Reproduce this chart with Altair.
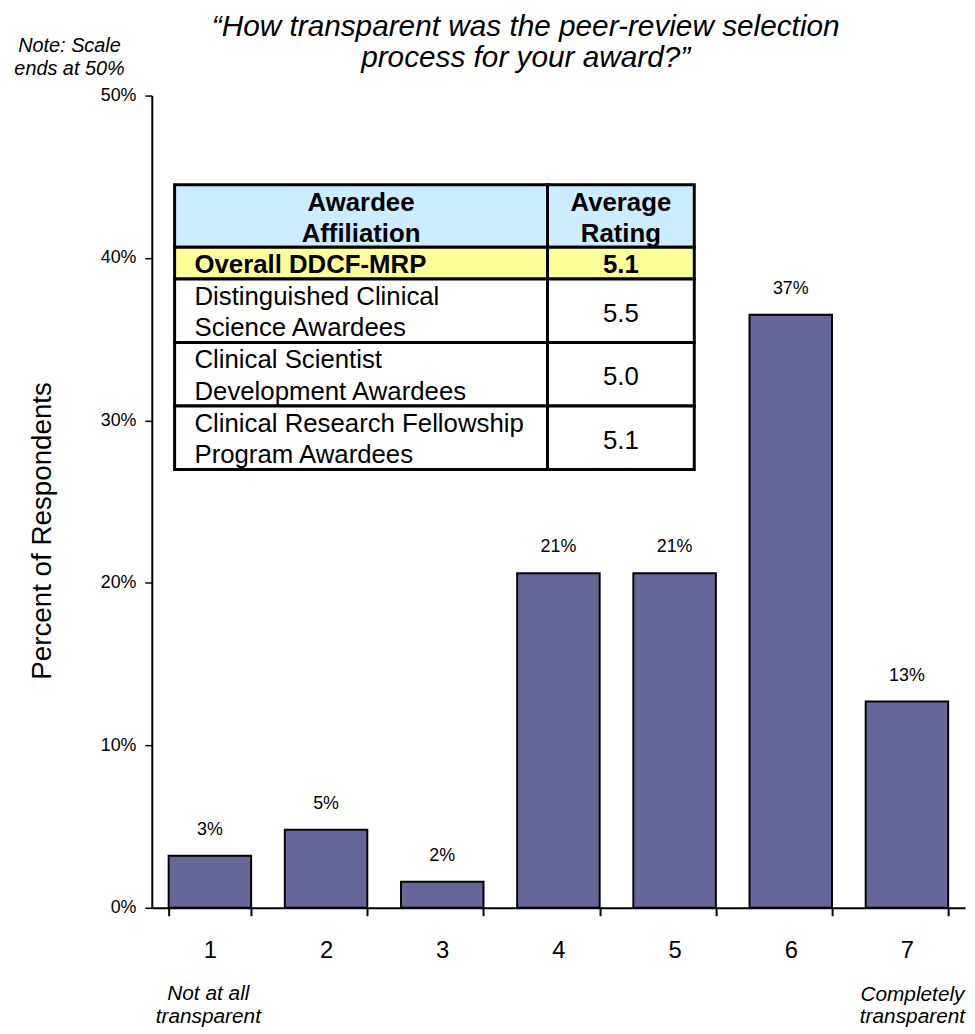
import altair as alt
import pandas as pd

# ---------------- data ----------------
ratings = ["1", "2", "3", "4", "5", "6", "7"]
percents = [3.2, 4.8, 1.6, 20.6, 20.6, 36.5, 12.7]
bar_labels = ["3%", "5%", "2%", "21%", "21%", "37%", "13%"]
y_ticks = [0, 10, 20, 30, 40, 50]

title_lines = ["\u201cHow transparent was the peer-review selection",
               "process for your award?\u201d"]
note_lines = ["Note: Scale", "ends at 50%"]
low_anchor_lines = ["Not at all", "transparent"]
high_anchor_lines = ["Completely", "transparent"]
y_title = "Percent of Respondents"

header_cells = [["Awardee", "Affiliation"], ["Average", "Rating"]]
affiliations = [["Overall DDCF-MRP"],
                ["Distinguished Clinical", "Science Awardees"],
                ["Clinical Scientist", "Development Awardees"],
                ["Clinical Research Fellowship", "Program Awardees"]]
average_ratings = ["5.1", "5.5", "5.0", "5.1"]

# ---------------- layout / style ----------------
FONT = "Liberation Sans"
W, H = 820, 819
BAR_FILL = "#666699"
HEADER_FILL = "#CCECFF"
OVERALL_FILL = "#FFFF99"

bars_df = pd.DataFrame({"rating": ratings, "pct": percents, "label": bar_labels})

x_enc = alt.X(
    "rating:O", sort=ratings,
    scale=alt.Scale(paddingInner=0.29, paddingOuter=0.145),
    axis=alt.Axis(title=None, labelAngle=0, tickBand="extent", tickSize=8,
                  tickWidth=2, tickColor="black", domainColor="black",
                  domainWidth=2, labelFontSize=24, labelColor="black",
                  labelPadding=23, labelFont=FONT),
)
y_enc = alt.Y(
    "pct:Q",
    scale=alt.Scale(domain=[0, 50], nice=False),
    axis=alt.Axis(title=None, values=y_ticks, labelExpr="datum.value + '%'",
                  grid=False, tickSize=7, tickWidth=1.5, tickColor="black",
                  domainColor="black", domainWidth=2, labelFontSize=18,
                  labelColor="black", labelPadding=9, labelFont=FONT),
)

bars = alt.Chart(bars_df).mark_bar(
    fill=BAR_FILL, stroke="black", strokeWidth=2
).encode(x=x_enc, y=y_enc)

bar_text = alt.Chart(bars_df).mark_text(
    dy=-26, fontSize=18, font=FONT, color="black", baseline="middle"
).encode(x=alt.X("rating:O", sort=ratings), y="pct:Q", text="label:N")

data_layer = alt.layer(bars, bar_text)


def text_layer(xs, ys, texts, **kw):
    df = pd.DataFrame({"px": xs, "py": ys, "t": texts})
    return alt.Chart(df).mark_text(font=FONT, color="black", **kw).encode(
        x=alt.X("px:Q", scale=None, axis=None),
        y=alt.Y("py:Q", scale=None, axis=None),
        text="t:N",
    )


# ---------------- annotations outside plot ----------------
title = text_layer([377, 377], [-60, -29], title_lines, fontSize=30,
                   fontStyle="italic", align="center", baseline="alphabetic")
note = text_layer([-83, -83], [-44, -21], note_lines, fontSize=20,
                  fontStyle="italic", align="center", baseline="alphabetic")
ytitle = text_layer([-110], [439], [y_title], fontSize=28, angle=270,
                    align="center", baseline="middle")
low_anchor = text_layer([57, 57], [912, 935], low_anchor_lines, fontSize=21,
                        fontStyle="italic", align="center", baseline="alphabetic")
high_anchor = text_layer([767, 767], [913, 935], high_anchor_lines, fontSize=21,
                         fontStyle="italic", align="center", baseline="alphabetic")

# ---------------- table ----------------
tx = [23, 399, 547]
ty = [90, 153, 185, 249, 313, 377]
fills = [HEADER_FILL, OVERALL_FILL, "white", "white", "white"]

rect_rows = []
for i in range(5):
    for c in range(2):
        rect_rows.append({"x0": tx[c], "x1": tx[c + 1], "y0": ty[i],
                          "y1": ty[i + 1], "fill": fills[i]})
rects = alt.Chart(pd.DataFrame(rect_rows)).mark_rect(
    stroke="black", strokeWidth=3
).encode(
    x=alt.X("x0:Q", scale=None, axis=None), x2="x1:Q",
    y=alt.Y("y0:Q", scale=None, axis=None), y2="y1:Q",
    fill=alt.Fill("fill:N", scale=None),
)

col0_center = (tx[0] + tx[1]) / 2
col1_center = (tx[1] + tx[2]) / 2
left_x = tx[0] + 20

# header (bold, centred)
hx, hy, ht = [], [], []
for c, lines in enumerate(header_cells):
    for k, line in enumerate(lines):
        hx.append(col0_center if c == 0 else col1_center)
        hy.append(ty[0] + 26 + 32 * k)
        ht.append(line)
header_text = text_layer(hx, hy, ht, fontSize=26, fontWeight="bold",
                         align="center", baseline="alphabetic")

# overall row (bold)
overall_left = text_layer([left_x], [ty[1] + 26], affiliations[0], fontSize=26,
                          fontWeight="bold", align="left", baseline="alphabetic")
overall_right = text_layer([col1_center], [ty[1] + 26], [average_ratings[0]],
                           fontSize=26, fontWeight="bold", align="center",
                           baseline="alphabetic")

# other rows
ax, ay, at = [], [], []
vx, vy, vt = [], [], []
for r in range(1, 4):
    top = ty[r + 1]
    for k, line in enumerate(affiliations[r]):
        ax.append(left_x)
        ay.append(top + 26 + 31.7 * k)
        at.append(line)
    vx.append(col1_center)
    vy.append(top + 43)
    vt.append(average_ratings[r])
aff_text = text_layer(ax, ay, at, fontSize=26, align="left", baseline="alphabetic")
val_text = text_layer(vx, vy, vt, fontSize=26, align="center", baseline="alphabetic")

chart = alt.layer(
    data_layer, rects, header_text, overall_left, overall_right, aff_text,
    val_text, title, note, ytitle, low_anchor, high_anchor,
).resolve_scale(
    x="independent", y="independent"
).properties(
    width=W, height=H,
    autosize=alt.AutoSizeParams(type="none"),
    padding={"left": 145, "top": 84, "right": 2, "bottom": 123},
    background="white",
).configure_view(stroke=None)

chart.save("out.html", embed_options={"renderer": "svg", "actions": False})
